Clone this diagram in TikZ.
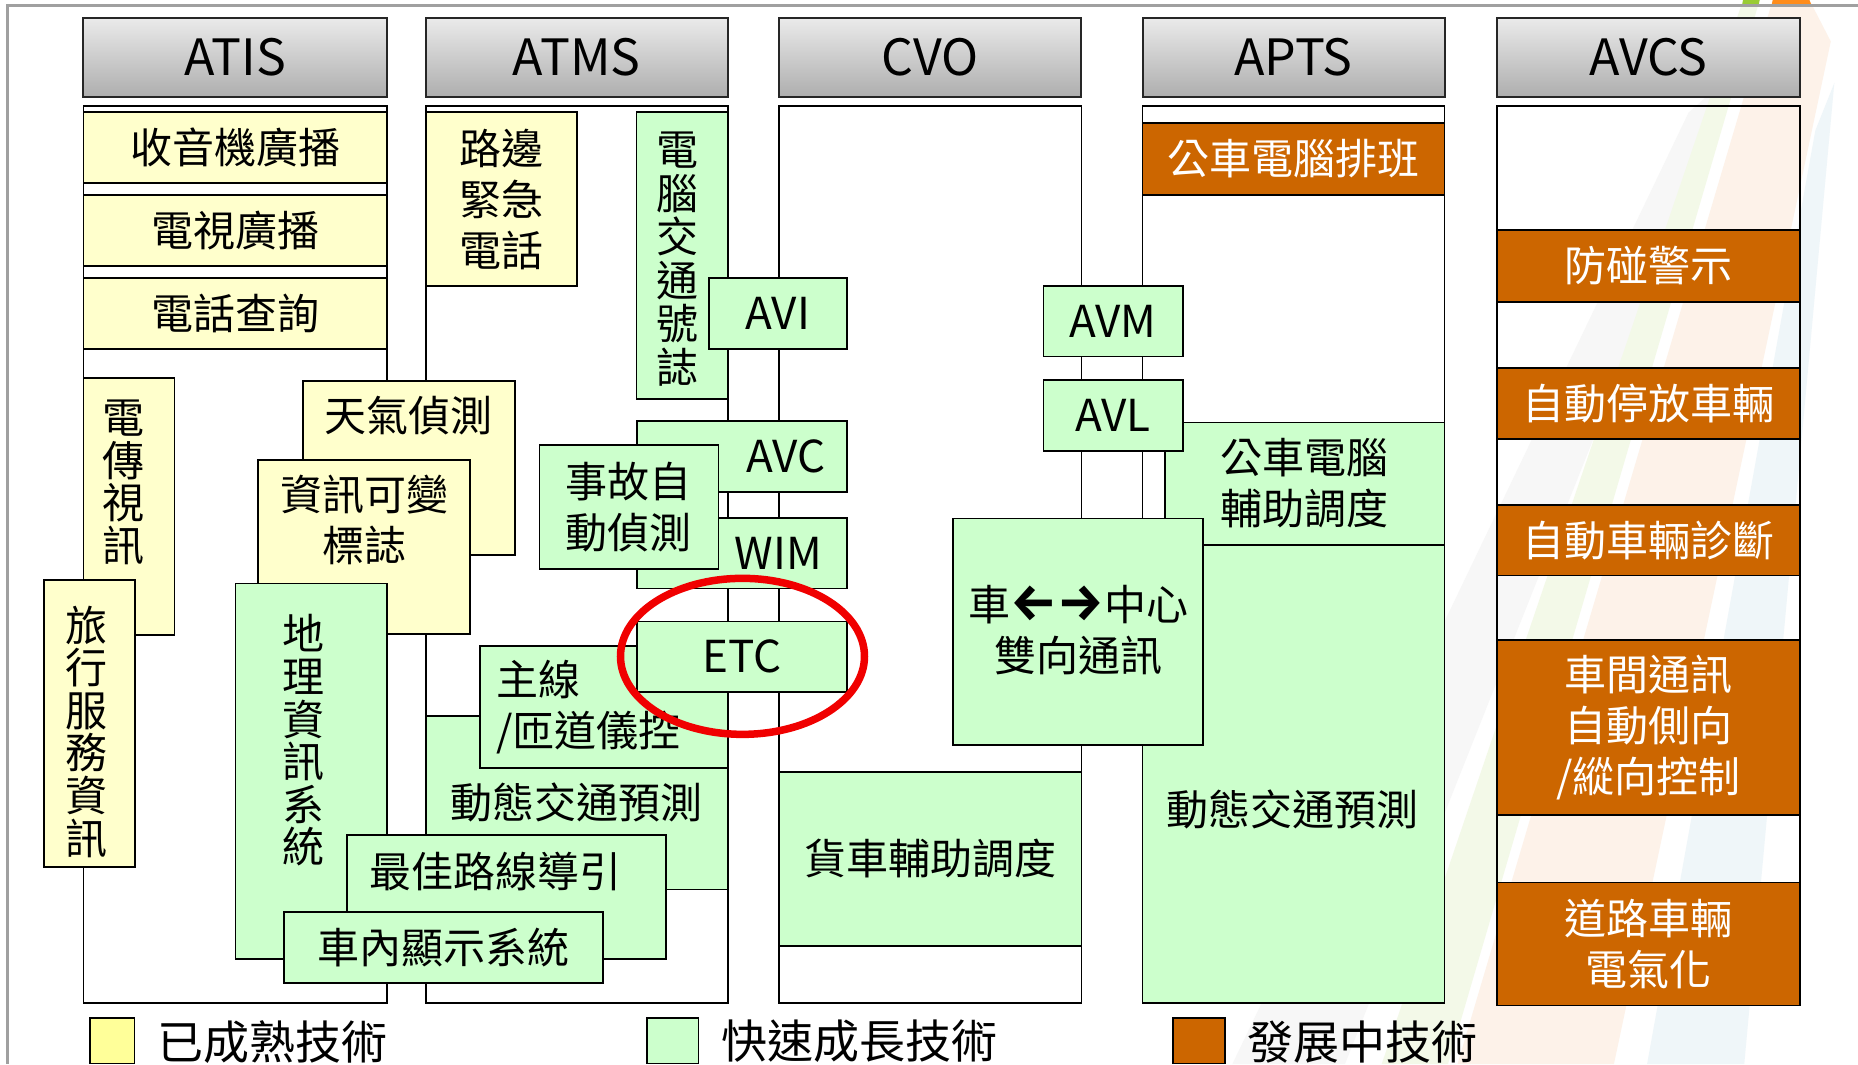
\documentclass[tikz,border=0pt]{standalone}
\usepackage{fontspec}
\setmainfont{Noto Sans CJK TC}
\newfontfamily\arrowfont{Fira Sans}
\definecolor{yelfill}{HTML}{FFFFCC}
\definecolor{yelleg}{HTML}{FFFF99}
\definecolor{grnfill}{HTML}{CCFFCC}
\definecolor{orgfill}{HTML}{CC6600}
\definecolor{framegray}{HTML}{A0A0A0}
\definecolor{ellred}{HTML}{F00000}
\definecolor{hdrtop}{HTML}{EAEAEA}
\definecolor{hdrbot}{HTML}{AEAEAE}
\definecolor{bgray}{HTML}{F7F7F7}
\definecolor{bgreen}{HTML}{F3F9E8}
\definecolor{borange}{HTML}{FDF2E9}
\definecolor{bblue}{HTML}{EFF6F9}
\definecolor{sgreen}{HTML}{99CC33}
\definecolor{sorange}{HTML}{FF8C1A}
\newcommand\myfs[2]{\fontsize{#1}{#2}\selectfont}
\newcommand\bx[5]{\draw[#1] (#2,#3) rectangle (#4,#5);}
\tikzset{
  every node/.style={inner sep=0pt, outer sep=0pt},
  boxline/.style={draw=black, line width=1.8pt},
  hdr/.style={draw=black!85, line width=2pt, top color=hdrtop, bottom color=hdrbot},
  body/.style={draw=black, line width=1.8pt},
  yel/.style={boxline, fill=yelfill},
  grn/.style={boxline, fill=grnfill},
  org/.style={boxline, fill=orgfill},
  htxt/.style={font=\myfs{50}{60}, text=black},
  ltxt/.style={font=\myfs{44}{52}, text=black},
  txt/.style={font=\myfs{42}{51}, align=center, text=black},
  wtxt/.style={txt, text=white},
  vtxt/.style={font=\myfs{42}{42.6}, align=center, text=black},
  legtxt/.style={font=\myfs{46}{52}, text=black, anchor=west},
}
\begin{document}
\begin{tikzpicture}[x=1.18495pt, y=-1.18495pt]
\useasboundingbox (0,0) rectangle (1568,898);
\fill[white] (0,0) rectangle (1568,898);
% decorative background bands
\fill[bgray] (1425,95) -- (1470,55) -- (1135,898) -- (1040,898) -- cycle;
\fill[bgreen] (1471,0) -- (1485,0) -- (1222,898) -- (1166,898) -- cycle;
\fill[borange] (1496,0) -- (1527,0) -- (1545,35) -- (1362,898) -- (1230,898) -- cycle;
\fill[bblue] (1532,110) -- (1548,70) -- (1472,898) -- (1390,898) -- cycle;
\fill[sgreen] (1471,0) -- (1485,0) -- (1484,5) -- (1470,5) -- cycle;
\fill[sorange] (1496,0) -- (1527,0) -- (1529,5) -- (1495,5) -- cycle;
% slide frame
\draw[framegray, line width=2.5pt] (1568,4.5) -- (6.2,4.5) -- (6.2,898);

% headers
\bx{hdr}{70.4}{15.5}{326.4}{81.6}
\bx{hdr}{359.2}{15.5}{614.5}{81.6}
\bx{hdr}{657.6}{15.5}{912.6}{81.6}
\bx{hdr}{964.2}{15.5}{1219.1}{81.6}
\bx{hdr}{1263.6}{15.5}{1519}{81.6}
\node[htxt] (hATIS) at (198.4,48.5) {ATIS};
\node[htxt] (hATMS) at (486.8,48.5) {ATMS};
\node[htxt] (hCVO) at (785.1,48.5) {CVO};
\node[htxt] (hAPTS) at (1091.6,48.5) {APTS};
\node[htxt] (hAVCS) at (1391.3,48.5) {AVCS};

% column bodies
\bx{body}{70.4}{89.5}{326.4}{846.4}
\bx{body}{359.2}{89.5}{614.5}{846.4}
\bx{body}{657.6}{89.5}{912.6}{846.4}
\bx{body}{964.2}{89.5}{1219.1}{846.4}
\bx{body}{1263.6}{89.5}{1519}{846.4}

% ATIS
\bx{yel}{70.4}{94.5}{326.4}{154.2}
\node[txt] (radio) at (198.4,124.5) {收音機廣播};
\bx{yel}{70.4}{164.3}{326.4}{224.2}
\node[txt] (tv) at (198.4,194.3) {電視廣播};
\bx{yel}{70.4}{234.3}{326.4}{294.5}
\node[txt] (phone) at (198.4,264.5) {電話查詢};
\bx{yel}{70.4}{319.3}{147.3}{535.7}
\node[vtxt] (videotex) at (104.5,407) {電\\傳\\視\\訊};
\bx{yel}{37.2}{489.5}{114.1}{732}
\node[vtxt] (travel) at (73,617.5) {旅\\行\\服\\務\\資\\訊};

% ATMS left group
\bx{yel}{255.7}{321.6}{434.8}{468.6}
\node[txt] (weather) at (345,350.5) {天氣偵測};
\bx{yel}{218}{388}{396.8}{535}
\node[txt] (cms) at (307.3,439) {資訊可變\\標誌};
\bx{grn}{198.8}{492.5}{326.4}{809}
\node[vtxt] (gis) at (256,625) {地\\理\\資\\訊\\系\\統};
\bx{yel}{359.2}{94.5}{487.2}{241.1}
\node[txt] (sos) at (423,168) {路邊\\緊急\\電話};
\bx{grn}{537.1}{94.5}{614}{336.4}
\node[font=\myfs{42}{43.5}, align=center] (signal) at (572,218.6) {電\\腦\\交\\通\\號\\誌};
\bx{grn}{598}{234.5}{714.8}{294.8}
\node[ltxt] (avi) at (656.4,264.7) {AVI};
\bx{grn}{537.4}{355}{714.8}{415}
\node[ltxt] (avc) at (663,385) {AVC};
\bx{grn}{537.4}{437}{714.8}{496.6}
\node[ltxt] (wim) at (657,467) {WIM};
\bx{grn}{455.3}{375.8}{606.3}{480}
\node[txt] (incident) at (530.8,428) {事故自\\動偵測};
\bx{grn}{359.2}{604.2}{614.3}{750.7}
\node[txt] (dtpA) at (486.5,677) {動態交通預測};
\bx{grn}{405}{545.2}{614}{648.3}
\node[txt, align=left, anchor=west] (ramp) at (419,597) {主線\\/匝道儀控};
\bx{grn}{537.4}{524.5}{714.8}{584}
\node[ltxt] (etc) at (626,554) {ETC};
\bx{grn}{292.9}{704.7}{562.3}{809}
\node[txt] (route) at (418,735.5) {最佳路線導引};
\bx{grn}{239.7}{769.9}{509.2}{829.6}
\node[txt] (invehicle) at (374.5,800) {車內顯示系統};

% APTS
\bx{org}{964.2}{104}{1219.1}{164.4}
\node[wtxt] (sched) at (1091.6,134.2) {公車電腦排班};
\bx{grn}{964.2}{459.9}{1219.1}{846.4}
\node[txt] (dtpB) at (1091,683) {動態交通預測};
\bx{grn}{983.3}{356.5}{1219.1}{459.9}
\node[txt] (dispatch) at (1101.2,408) {公車電腦\\輔助調度};

% CVO
\bx{grn}{880.6}{241.1}{998.2}{300.8}
\node[ltxt] (avm) at (939.4,271) {AVM};
\bx{grn}{880.6}{320.4}{998.2}{380.4}
\node[ltxt] (avl) at (939.4,350.5) {AVL};
\bx{grn}{804.1}{437.5}{1015.1}{628.4}
\node[txt] (v2c) at (910,532) {車{\arrowfont\bfseries\fontsize{52}{52}\selectfont ←→}中心\\雙向通訊};
\bx{grn}{657.6}{651.2}{912.6}{798.3}
\node[txt] (truck) at (785,724.5) {貨車輔助調度};

% AVCS
\bx{org}{1263.6}{193.8}{1519}{254.7}
\node[wtxt] (collision) at (1391.3,224.3) {防碰警示};
\bx{org}{1263.6}{310.5}{1519}{370.7}
\node[wtxt] (parking) at (1391.3,340.6) {自動停放車輛};
\bx{org}{1263.6}{425.9}{1519}{485.7}
\node[wtxt] (diag) at (1391.3,455.8) {自動車輛診斷};
\bx{org}{1263.6}{540.3}{1519}{687.9}
\node[wtxt] (v2v) at (1391.3,614) {車間通訊\\自動側向\\/縱向控制};
\bx{org}{1263.6}{744.7}{1519}{848.5}
\node[wtxt] (electric) at (1391.3,796.6) {道路車輛\\電氣化};

% red ellipse around ETC
\draw[ellred, line width=7.5pt] (626.6,553.9) ellipse [x radius=122pt, y radius=78pt];

% legend
\bx{boxline, fill=yelleg}{76}{859}{113.5}{897.5}
\node[legtxt] (legA) at (133,879) {已成熟技術};
\bx{boxline, fill=grnfill}{546}{859}{589.5}{897.5}
\node[legtxt] (legB) at (609,879) {快速成長技術};
\bx{boxline, fill=orgfill}{990}{859}{1033.5}{897.5}
\node[legtxt] (legC) at (1053,879) {發展中技術};
\end{tikzpicture}
\end{document}
